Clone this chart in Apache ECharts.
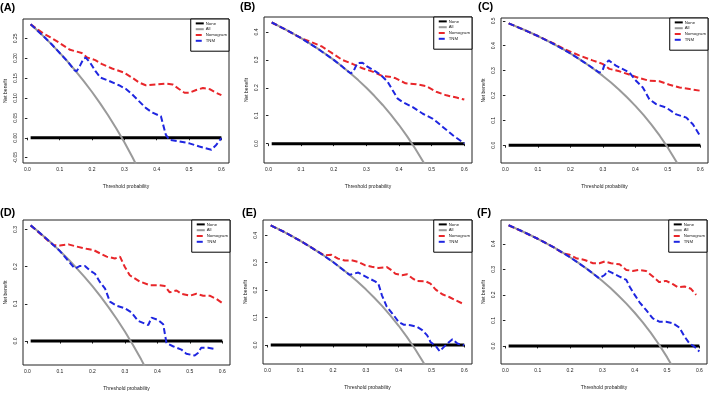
<!DOCTYPE html>
<html>
<head>
<meta charset="utf-8">
<script src="https://cdn.jsdelivr.net/npm/echarts@6/dist/echarts.min.js"></script>
<style>html,body{margin:0;padding:0;background:#fff}#c{width:709px;height:396px}</style>
</head>
<body>
<div id="c"></div>
<script>
// ---------- data ----------
const panelLabels = ['(A)', '(B)', '(C)', '(D)', '(E)', '(F)'];
const seriesNames = ['None', 'All', 'Nomogram', 'TNM'];
const xTickValues = [0, 0.1, 0.2, 0.3, 0.4, 0.5, 0.6];
const yTicksA = [-0.05, 0, 0.05, 0.10, 0.15, 0.20, 0.25];
const yTicksB = [0, 0.1, 0.2, 0.3, 0.4];
const yTicksC = [0, 0.1, 0.2, 0.3, 0.4, 0.5];
const yTicksD = [0, 0.1, 0.2, 0.3];
const yTicksE = [0, 0.1, 0.2, 0.3, 0.4];
const yTicksF = [0, 0.1, 0.2, 0.3, 0.4];
const noneLine = [[0.01, 0], [0.6, 0]];

// Panel A
const allA = [[0.01,0.2848],[0.025,0.2738],[0.05,0.2547],[0.075,0.2346],[0.1,0.2133],[0.125,0.1909],[0.15,0.1671],[0.175,0.1418],[0.2,0.115],[0.225,0.0865],[0.25,0.056],[0.275,0.0235],[0.3,-0.0114],[0.325,-0.0489],[0.35,-0.0892]];
const nomA = [[0.01,0.285],[0.03,0.273],[0.05,0.262],[0.07,0.253],[0.096,0.240],[0.132,0.221],[0.168,0.213],[0.184,0.202],[0.21,0.195],[0.231,0.185],[0.262,0.174],[0.298,0.164],[0.324,0.151],[0.345,0.139],[0.366,0.132],[0.397,0.134],[0.428,0.136],[0.449,0.134],[0.47,0.122],[0.486,0.113],[0.501,0.113],[0.522,0.120],[0.543,0.125],[0.564,0.122],[0.584,0.113],[0.6,0.107]];
const tnmA = [[0.01,0.285],[0.025,0.274],[0.05,0.255],[0.075,0.235],[0.1,0.213],[0.125,0.191],[0.145,0.170],[0.152,0.167],[0.162,0.180],[0.174,0.199],[0.181,0.201],[0.194,0.189],[0.21,0.168],[0.226,0.151],[0.252,0.143],[0.283,0.132],[0.304,0.123],[0.324,0.109],[0.345,0.092],[0.366,0.075],[0.387,0.063],[0.413,0.054],[0.428,0.008],[0.439,-0.005],[0.47,-0.009],[0.501,-0.014],[0.532,-0.022],[0.569,-0.030],[0.584,-0.018],[0.6,-0.001]];

// Panel B
const allB = [[0.01,0.4343],[0.025,0.4256],[0.05,0.4105],[0.075,0.3946],[0.1,0.3778],[0.125,0.36],[0.15,0.3412],[0.175,0.3212],[0.2,0.30],[0.225,0.2774],[0.25,0.2533],[0.275,0.2276],[0.3,0.20],[0.325,0.1704],[0.35,0.1385],[0.375,0.104],[0.4,0.0667],[0.425,0.0261],[0.45,-0.0182],[0.475,-0.0667],[0.5,-0.12]];
const nomB = [[0.01,0.434],[0.05,0.41],[0.1,0.378],[0.133,0.363],[0.164,0.348],[0.195,0.324],[0.226,0.300],[0.257,0.286],[0.288,0.270],[0.319,0.258],[0.349,0.242],[0.37,0.24],[0.39,0.234],[0.42,0.216],[0.453,0.213],[0.483,0.206],[0.514,0.186],[0.545,0.173],[0.576,0.165],[0.6,0.158]];
const tnmB = [[0.01,0.434],[0.05,0.4105],[0.1,0.378],[0.15,0.341],[0.2,0.300],[0.225,0.277],[0.24,0.262],[0.252,0.252],[0.26,0.258],[0.272,0.288],[0.288,0.290],[0.303,0.276],[0.329,0.258],[0.344,0.246],[0.365,0.222],[0.38,0.192],[0.396,0.161],[0.411,0.149],[0.442,0.131],[0.473,0.107],[0.504,0.089],[0.535,0.059],[0.566,0.029],[0.6,0.001]];

// Panel C
const allC = [[0.01,0.4899],[0.025,0.4821],[0.05,0.4684],[0.075,0.4541],[0.1,0.4389],[0.125,0.4229],[0.15,0.4059],[0.175,0.3879],[0.2,0.3688],[0.225,0.3484],[0.25,0.3267],[0.275,0.3034],[0.3,0.2786],[0.325,0.2519],[0.35,0.2231],[0.375,0.192],[0.4,0.1583],[0.425,0.1217],[0.45,0.0818],[0.475,0.0381],[0.5,-0.01],[0.525,-0.0632],[0.55,-0.1222]];
const nomC = [[0.01,0.49],[0.05,0.468],[0.1,0.439],[0.15,0.408],[0.186,0.384],[0.227,0.361],[0.268,0.341],[0.299,0.327],[0.32,0.307],[0.351,0.297],[0.381,0.284],[0.412,0.270],[0.443,0.259],[0.474,0.257],[0.505,0.243],[0.536,0.232],[0.567,0.226],[0.6,0.219]];
const tnmC = [[0.01,0.49],[0.05,0.468],[0.1,0.439],[0.15,0.406],[0.2,0.369],[0.25,0.327],[0.289,0.292],[0.299,0.300],[0.304,0.32],[0.318,0.341],[0.34,0.320],[0.381,0.293],[0.402,0.259],[0.423,0.232],[0.443,0.185],[0.464,0.165],[0.495,0.151],[0.526,0.124],[0.557,0.111],[0.577,0.084],[0.6,0.036]];

// Panel D
const allD = [[0.01,0.3111],[0.025,0.3005],[0.05,0.2821],[0.075,0.2627],[0.1,0.2422],[0.125,0.2206],[0.15,0.1976],[0.175,0.1733],[0.2,0.1475],[0.225,0.12],[0.25,0.0907],[0.275,0.0593],[0.3,0.0257],[0.325,-0.0104],[0.35,-0.0492],[0.375,-0.0912]];
const nomD = [[0.01,0.311],[0.049,0.281],[0.08,0.258],[0.1,0.257],[0.126,0.260],[0.152,0.254],[0.182,0.248],[0.203,0.245],[0.223,0.236],[0.244,0.227],[0.269,0.222],[0.285,0.227],[0.3,0.199],[0.315,0.177],[0.346,0.160],[0.377,0.150],[0.407,0.150],[0.423,0.148],[0.438,0.131],[0.459,0.136],[0.474,0.127],[0.5,0.122],[0.52,0.127],[0.541,0.122],[0.561,0.122],[0.582,0.113],[0.6,0.102]];
const tnmD = [[0.01,0.311],[0.05,0.282],[0.1,0.242],[0.146,0.195],[0.162,0.202],[0.177,0.202],[0.192,0.190],[0.208,0.181],[0.223,0.159],[0.239,0.141],[0.254,0.106],[0.274,0.095],[0.3,0.088],[0.32,0.077],[0.341,0.054],[0.372,0.043],[0.382,0.063],[0.402,0.057],[0.418,0.045],[0.428,-0.005],[0.448,-0.014],[0.474,-0.023],[0.489,-0.034],[0.515,-0.039],[0.525,-0.032],[0.535,-0.018],[0.556,-0.018],[0.575,-0.021]];

// Panel E
const allE = [[0.01,0.4364],[0.025,0.4277],[0.05,0.4126],[0.075,0.3968],[0.1,0.38],[0.125,0.3623],[0.15,0.3435],[0.175,0.3236],[0.2,0.3025],[0.225,0.28],[0.25,0.256],[0.275,0.2303],[0.3,0.2029],[0.325,0.1733],[0.35,0.1415],[0.375,0.1072],[0.4,0.07],[0.425,0.0296],[0.45,-0.0146],[0.475,-0.0629],[0.5,-0.116]];
const nomE = [[0.01,0.436],[0.05,0.413],[0.1,0.38],[0.15,0.3435],[0.174,0.327],[0.195,0.329],[0.215,0.315],[0.236,0.308],[0.256,0.309],[0.277,0.303],[0.297,0.291],[0.318,0.285],[0.338,0.281],[0.364,0.284],[0.379,0.272],[0.39,0.260],[0.41,0.254],[0.426,0.258],[0.441,0.244],[0.456,0.233],[0.482,0.232],[0.497,0.224],[0.513,0.202],[0.533,0.185],[0.554,0.175],[0.574,0.163],[0.6,0.148]];
const tnmE = [[0.01,0.436],[0.05,0.413],[0.1,0.38],[0.15,0.3435],[0.2,0.3025],[0.25,0.256],[0.256,0.252],[0.277,0.264],[0.292,0.254],[0.308,0.244],[0.328,0.232],[0.338,0.224],[0.349,0.181],[0.364,0.139],[0.385,0.108],[0.4,0.084],[0.415,0.074],[0.436,0.072],[0.456,0.066],[0.472,0.054],[0.487,0.035],[0.497,0.011],[0.513,-0.004],[0.525,-0.023],[0.538,-0.007],[0.554,0.011],[0.564,0.021],[0.579,0.005],[0.6,-0.001]];

// Panel F
const allF = [[0.01,0.4727],[0.025,0.4646],[0.05,0.4505],[0.075,0.4357],[0.1,0.42],[0.125,0.4034],[0.15,0.3859],[0.175,0.3673],[0.2,0.3475],[0.225,0.3265],[0.25,0.304],[0.275,0.28],[0.3,0.2543],[0.325,0.2267],[0.35,0.1969],[0.375,0.1648],[0.4,0.13],[0.425,0.0922],[0.45,0.0509],[0.475,0.0057],[0.5,-0.044],[0.525,-0.099]];
const nomF = [[0.01,0.473],[0.05,0.45],[0.1,0.42],[0.15,0.386],[0.178,0.363],[0.199,0.357],[0.219,0.344],[0.245,0.337],[0.271,0.324],[0.291,0.324],[0.307,0.331],[0.327,0.324],[0.353,0.320],[0.374,0.298],[0.394,0.294],[0.415,0.298],[0.435,0.294],[0.456,0.272],[0.476,0.250],[0.497,0.255],[0.518,0.242],[0.533,0.230],[0.554,0.233],[0.574,0.224],[0.59,0.200]];
const tnmF = [[0.01,0.473],[0.05,0.4505],[0.1,0.42],[0.15,0.386],[0.2,0.3475],[0.25,0.304],[0.29,0.265],[0.296,0.265],[0.307,0.278],[0.317,0.294],[0.332,0.285],[0.353,0.272],[0.374,0.259],[0.384,0.233],[0.4,0.2],[0.415,0.171],[0.435,0.141],[0.456,0.108],[0.476,0.095],[0.497,0.095],[0.518,0.089],[0.538,0.072],[0.554,0.037],[0.569,0.010],[0.585,-0.003],[0.6,-0.022]];

// ---------- layout / style ----------
const FONT = 'Liberation Sans, Arial, Helvetica, sans-serif';
const panels = [
  {label: panelLabels[0], all: allA, nom: nomA, tnm: tnmA, yTicks: yTicksA, ymin: -0.0634, ymax: 0.2984, dec: 2, box: {left: 23, top: 19, width: 206, height: 144}, lab: {left: 0, top: 2}},
  {label: panelLabels[1], all: allB, nom: nomB, tnm: tnmB, yTicks: yTicksB, ymin: -0.0694, ymax: 0.4537, dec: 1, box: {left: 264, top: 17, width: 208, height: 146}, lab: {left: 240, top: 1}},
  {label: panelLabels[2], all: allC, nom: nomC, tnm: tnmC, yTicks: yTicksC, ymin: -0.0716, ymax: 0.5115, dec: 1, box: {left: 501, top: 18, width: 207, height: 145}, lab: {left: 478, top: 1}},
  {label: panelLabels[3], all: allD, nom: nomD, tnm: tnmD, yTicks: yTicksD, ymin: -0.0644, ymax: 0.3255, dec: 1, box: {left: 23, top: 220, width: 207, height: 145}, lab: {left: 0, top: 207}},
  {label: panelLabels[4], all: allE, nom: nomE, tnm: tnmE, yTicks: yTicksE, ymin: -0.0695, ymax: 0.4559, dec: 1, box: {left: 263, top: 220, width: 209, height: 144}, lab: {left: 242, top: 207}},
  {label: panelLabels[5], all: allF, nom: nomF, tnm: tnmF, yTicks: yTicksF, ymin: -0.0709, ymax: 0.4936, dec: 1, box: {left: 501, top: 220, width: 206, height: 144}, lab: {left: 477, top: 207}}
];

const styles = {
  None: {color: '#000000', width: 3, type: 'solid'},
  All: {color: '#9a9a9a', width: 2, type: 'solid'},
  Nomogram: {color: '#e8262a', width: 2, type: [6, 3]},
  TNM: {color: '#1f26e0', width: 2, type: [6, 3]}
};

const grid = [], xAxis = [], yAxis = [], series = [], legend = [], title = [];
panels.forEach((p, i) => {
  grid.push({left: p.box.left, top: p.box.top, width: p.box.width, height: p.box.height,
    show: true, borderColor: '#222', borderWidth: 1, backgroundColor: 'transparent', containLabel: false});
  xAxis.push({gridIndex: i, type: 'value', min: -0.0136, max: 0.6236,
    name: 'Threshold probability', nameLocation: 'middle', nameGap: 21,
    nameTextStyle: {fontSize: 5, color: '#222', fontFamily: FONT},
    axisLine: {show: false}, splitLine: {show: false},
    axisTick: {show: true, length: 2.5, lineStyle: {color: '#222', width: 1}, customValues: xTickValues},
    axisLabel: {fontSize: 5, color: '#222', fontFamily: FONT, margin: 4.5, customValues: xTickValues,
      formatter: v => v.toFixed(1)}});
  yAxis.push({gridIndex: i, type: 'value', min: p.ymin, max: p.ymax,
    name: 'Net benefit', nameLocation: 'middle', nameGap: 15, nameRotate: 90,
    nameTextStyle: {fontSize: 5, color: '#222', fontFamily: FONT},
    axisLine: {show: false}, splitLine: {show: false},
    axisTick: {show: true, length: 2.5, lineStyle: {color: '#222', width: 1}, customValues: p.yTicks},
    axisLabel: {fontSize: 5, color: '#222', fontFamily: FONT, margin: 5, rotate: 90, customValues: p.yTicks,
      formatter: v => v.toFixed(p.dec)}});
  const datas = {None: noneLine, All: p.all, Nomogram: p.nom, TNM: p.tnm};
  seriesNames.forEach((n, k) => {
    const s = styles[n];
    series.push({type: 'line', name: n, xAxisIndex: i, yAxisIndex: i, data: datas[n],
      symbol: 'none', showSymbol: false, clip: true, z: 2 + k, silent: true,
      lineStyle: {color: s.color, width: s.width, type: s.type, cap: 'butt'},
      itemStyle: {color: s.color}});
  });
  legend.push({orient: 'vertical', right: 709 - (p.box.left + p.box.width), top: p.box.top,
    data: seriesNames, itemWidth: 8, itemHeight: 6, itemGap: 1,
    itemStyle: {opacity: 0, borderWidth: 0},
    padding: [2, 2, 8, 4], borderColor: '#000', borderWidth: 1, backgroundColor: '#fff',
    textStyle: {fontSize: 4.3, color: '#222', fontFamily: FONT, padding: [0, 0, 0, -3]},
    selectedMode: false});
  title.push({text: p.label, left: p.lab.left, top: p.lab.top, padding: 0,
    textStyle: {fontSize: 11, fontWeight: 'bold', color: '#000', fontFamily: FONT}});
});

const chart = echarts.init(document.getElementById('c'), null, {renderer: 'canvas'});
chart.setOption({animation: false, backgroundColor: '#fff', title, grid, xAxis, yAxis, legend, series});
</script>
</body>
</html>
